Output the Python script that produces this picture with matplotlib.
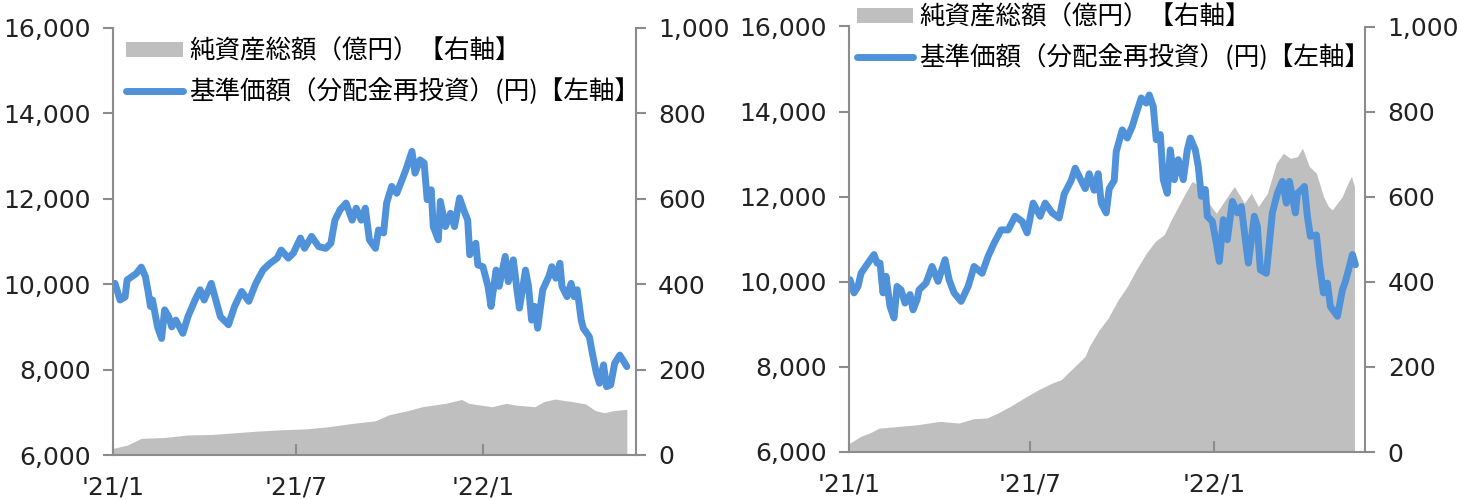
import matplotlib
matplotlib.use("Agg")
import matplotlib.pyplot as plt
from matplotlib.patches import Patch
from matplotlib.lines import Line2D
import pandas as pd

plt.rcParams['font.family'] = ['Noto Sans CJK JP', 'DejaVu Sans']

START = pd.Timestamp('2021-01-01')

# ---- Left panel data (days since 2021-01-01) ----
left_nav_days = [2, 7, 12, 14, 23, 28, 32, 35, 37, 39, 44, 48, 51, 55, 58, 62, 69, 74, 81, 86, 90, 97,
                 106, 114, 120, 127, 134, 141, 148, 155, 162, 166, 173, 178, 185, 189, 196, 203, 210,
                 215, 219, 224, 230, 236, 240, 245, 249, 253, 259, 262, 267, 270, 275, 280, 284, 289,
                 295, 298, 303, 307, 310, 314, 316, 321, 323, 328, 333, 337, 342, 346, 350, 352, 358,
                 360, 365, 370, 373, 378, 381, 387, 390, 395, 399, 401, 404, 407, 410, 413, 416, 419,
                 424, 430, 433, 437, 441, 443, 448, 452, 455, 458, 462, 464, 470, 473, 477, 480, 484,
                 487, 491, 495, 500, 504, 507]
left_nav = [10020, 9630, 9700, 10100, 10250, 10400, 10180, 9790, 9480, 9630, 9000, 8730, 9400, 9240,
            9000, 9160, 8850, 9240, 9630, 9870, 9630, 10020, 9240, 9050, 9480, 9830, 9600, 10020,
            10330, 10490, 10610, 10800, 10610, 10730, 11080, 10840, 11120, 10880, 10840, 10960,
            11500, 11740, 11900, 11500, 11780, 11500, 11780, 11040, 10840, 11270, 11200, 11900,
            12290, 12130, 12370, 12680, 13110, 12600, 12910, 12840, 11980, 12210, 11350, 11040,
            11940, 11350, 11660, 11350, 12020, 11740, 11500, 10690, 10960, 10450, 10410, 9950,
            9480, 10330, 9950, 10650, 10060, 10570, 9790, 9440, 9870, 10330, 9950, 9160, 9480,
            8970, 9870, 10180, 10410, 10140, 10490, 9950, 9710, 10020, 9710, 9870, 9160, 8970,
            8770, 8380, 7910, 7680, 8110, 7600, 7640, 8150, 8340, 8190, 8070]

left_aum_days = [0, 1, 14, 28, 51, 74, 97, 120, 143, 166, 189, 212, 236, 259, 272, 291, 305, 328,
                 344, 351, 374, 388, 397, 416, 425, 436, 453, 466, 476, 485, 494, 507]
left_aum = [14, 16, 23, 39, 41, 47, 48, 52, 56, 59, 61, 66, 74, 80, 94, 104, 113, 121, 130, 121,
            113, 121, 117, 113, 125, 131, 125, 120, 104, 99, 104, 107]

# ---- Right panel data ----
right_nav_days = [1, 5, 9, 12, 19, 25, 28, 31, 34, 37, 41, 45, 48, 52, 56, 61, 64, 68, 70, 77, 83, 89,
                  96, 100, 105, 112, 119, 125, 133, 139, 145, 152, 159, 166, 173, 178, 184, 191, 196,
                  203, 210, 215, 222, 226, 232, 236, 240, 245, 249, 252, 257, 260, 265, 267, 273, 278,
                  283, 287, 292, 297, 300, 304, 307, 311, 314, 318, 321, 325, 329, 334, 338, 341, 346,
                  349, 352, 356, 358, 363, 367, 370, 374, 378, 383, 388, 392, 396, 399, 405, 408, 411,
                  417, 423, 428, 433, 437, 440, 446, 448, 452, 455, 458, 461, 467, 470, 474, 478, 481,
                  488, 493, 496, 500, 503, 506]
right_nav = [10050, 9740, 9890, 10200, 10440, 10640, 10440, 10440, 9740, 10130, 9420, 9150, 9890,
             9810, 9500, 9700, 9340, 9580, 9810, 9970, 10360, 10010, 10520, 10050, 9740, 9540, 9890,
             10360, 10200, 10600, 10910, 11220, 11220, 11540, 11420, 11150, 11850, 11540, 11850,
             11620, 11500, 12060, 12380, 12670, 12380, 12190, 12540, 12150, 12540, 11850, 11620,
             12190, 12380, 13060, 13570, 13380, 13650, 13960, 14320, 14200, 14390, 14120, 13340,
             13460, 12400, 12080, 13100, 12400, 12870, 12400, 13100, 13380, 13100, 12710, 12010,
             12170, 11540, 11420, 10910, 10480, 11460, 10990, 11890, 11620, 11770, 10990, 10440,
             11540, 11300, 10280, 10200, 11620, 12080, 12360, 11850, 12360, 11620, 12080, 12160,
             12240, 11540, 11070, 11100, 10440, 9740, 9970, 9420, 9190, 9810, 10010, 10360, 10640,
             10400]

right_aum_days = [0, 1, 12, 21, 30, 44, 68, 91, 110, 124, 138, 149, 161, 175, 189, 203, 212, 222,
                  236, 240, 250, 259, 269, 278, 287, 297, 306, 315, 322, 329, 336, 343, 348, 357,
                  367, 376, 385, 395, 402, 409, 418, 427, 434, 441, 448, 453, 460, 467, 474, 479,
                  483, 488, 493, 497, 502, 505]
right_aum = [18, 21, 37, 45, 56, 59, 64, 72, 68, 78, 80, 92, 107, 127, 146, 162, 170, 193, 225,
             248, 287, 315, 358, 389, 428, 467, 495, 511, 546, 577, 608, 636, 628, 593, 561, 593,
             624, 585, 608, 577, 608, 679, 702, 690, 694, 714, 671, 655, 601, 577, 569, 585, 601,
             624, 648, 624]

tick_dates = ['2021-01-01', '2021-07-01', '2022-01-01']
tick_labels = ["'21/1", "'21/7", "'22/1"]
left_ticks = [6000, 8000, 10000, 12000, 14000, 16000]
right_ticks = [0, 200, 400, 600, 800, 1000]
label_aum = '純資産総額（億円）【右軸】'
label_nav = '基準価額（分配金再投資）(円)【左軸】'

BLUE = '#4F92DA'
GRAY = '#BFBFBF'
SPINE = '#8C8C8C'
TXT = '#222222'

def to_dates(days):
    return START + pd.to_timedelta(days, unit='D')

fig = plt.figure(figsize=(14.61, 5.0), dpi=100)

def make_panel(rect, nav_days, nav, aum_days, aum, leg_anchor):
    ax = fig.add_axes(rect)
    ax2 = ax.twinx()
    ax2.fill_between(to_dates(aum_days), 0, aum, color=GRAY, linewidth=0)
    ax.plot(to_dates(nav_days), nav, color=BLUE, linewidth=5, solid_capstyle='round',
            solid_joinstyle='round')
    ax.set_zorder(ax2.get_zorder() + 1)
    ax.patch.set_visible(False)
    ax.set_xlim(pd.Timestamp('2021-01-01'), pd.Timestamp('2022-06-01'))
    ax.set_ylim(6000, 16000)
    ax2.set_ylim(0, 1000)
    ax.set_yticks(left_ticks)
    ax.set_yticklabels([f'{v:,}' for v in left_ticks])
    ax2.set_yticks(right_ticks)
    ax2.set_yticklabels([f'{v:,}' for v in right_ticks])
    ax.set_xticks(pd.to_datetime(tick_dates))
    ax.set_xticklabels(tick_labels)
    for a in (ax, ax2):
        a.spines['top'].set_visible(False)
        for s in ('left', 'right', 'bottom'):
            a.spines[s].set_color(SPINE)
            a.spines[s].set_linewidth(1.5)
    ax2.spines['left'].set_visible(False)
    ax2.spines['bottom'].set_visible(False)
    ax.spines['right'].set_visible(False)
    ax.tick_params(axis='y', direction='out', length=7, width=1.5, color=SPINE,
                   labelsize=18, pad=9, labelcolor=TXT)
    ax2.tick_params(axis='y', direction='out', length=7, width=1.5, color=SPINE,
                    labelsize=18, pad=9, labelcolor=TXT)
    ax.tick_params(axis='x', direction='in', length=8, width=1.5, color=SPINE,
                   labelsize=18, pad=15, labelcolor=TXT)
    for lab in ax.get_xticklabels() + ax.get_yticklabels() + ax2.get_yticklabels():
        lab.set_family(['DejaVu Sans'])
    handles = [Patch(facecolor=GRAY, edgecolor='none'),
               Line2D([0], [0], color=BLUE, linewidth=5, solid_capstyle='round')]
    ax.legend(handles, [label_aum, label_nav], loc='upper left',
              bbox_to_anchor=leg_anchor, bbox_transform=fig.transFigure,
              frameon=False, fontsize=18.4, handlelength=2.2, handleheight=0.55,
              handletextpad=0.25, labelspacing=0.55, borderaxespad=0, borderpad=0)
    return ax, ax2

make_panel([0.0773, 0.09, 0.358, 0.854], left_nav_days, left_nav, left_aum_days, left_aum,
           (0.0865, 0.923))
make_panel([0.5811, 0.096, 0.3535, 0.851], right_nav_days, right_nav, right_aum_days, right_aum,
           (0.5865, 0.991))

fig.savefig('out.png', dpi=100)
